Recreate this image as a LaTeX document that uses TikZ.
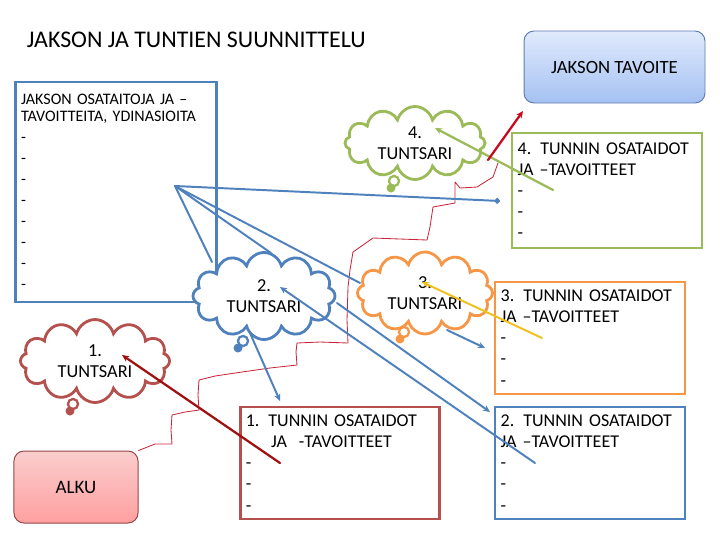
\documentclass[tikz,border=0pt]{standalone}
\usepackage{fontspec}
\setmainfont{Carlito}
\usetikzlibrary{shapes.symbols,arrows.meta}

\definecolor{sininen}{RGB}{79,129,189}
\definecolor{punainen}{RGB}{180,80,77}
\definecolor{oranssi}{RGB}{247,150,70}
\definecolor{vihrea}{RGB}{155,187,89}
\definecolor{tummapun}{RGB}{200,10,30}
\definecolor{viini}{RGB}{160,16,16}
\definecolor{keltainen}{RGB}{240,192,30}
\definecolor{polkupun}{RGB}{200,40,60}

\tikzset{
  osabox/.style={draw, line width=2pt, fill=white, align=left, inner xsep=4pt, inner ysep=0pt,
    font=\fontsize{12.8}{15}\selectfont},
  tuntsari/.style={cloud, cloud puffs=12, cloud ignores aspect, draw, line width=2pt, fill=white,
    align=center, inner sep=0pt, font=\fontsize{13}{15}\selectfont},
  pyorea/.style={rounded corners=0.25cm, draw, line width=0.7pt, align=center},
  yhteys/.style={line width=1.4pt, sininen},
  karki/.style={-{Stealth[length=5pt,width=4.5pt]}}
}

\begin{document}
\begin{tikzpicture}[x=0.025cm, y=-0.025cm, line cap=round]
\useasboundingbox (0,0) rectangle (720,540);

% --- otsikko ---
\node[anchor=west, font=\fontsize{17}{19}\selectfont] (otsikko) at (22,40) {JAKSON JA TUNTIEN SUUNNITTELU};

% --- tavoite ja alku ---
\node[pyorea, draw={rgb,255:red,95;green,125;blue,180}, top color={rgb,255:red,224;green,234;blue,252},
  bottom color={rgb,255:red,165;green,193;blue,242}, minimum width=128.7pt, minimum height=51.2pt,
  font=\fontsize{13.3}{15}\selectfont] (tavoite) at (614.5,67) {JAKSON TAVOITE};
\node[pyorea, draw={rgb,255:red,150;green,70;blue,70}, top color={rgb,255:red,250;green,205;blue,205},
  bottom color={rgb,255:red,255;green,160;blue,160}, minimum width=88.2pt, minimum height=51.2pt,
  font=\fontsize{13.5}{15}\selectfont] (alku) at (76,487) {ALKU};

% --- laatikot ---
\node[osabox, draw=sininen, text width=135pt, minimum height=156.5pt,
  font=\fontsize{11.4}{11.8}\selectfont] (jakso) at (116,192)
  {JAKSON OSATAITOJA JA –\\ TAVOITTEITA, YDINASIOITA\\[3.2pt] -\\[3.2pt] -\\[3.2pt] -\\[3.2pt] -\\[3.2pt]
   -\\[3.2pt] -\\[3.2pt] -\\[3.2pt] -};
\node[osabox, draw=vihrea, text width=127pt, minimum height=81.8pt] (tunti4) at (607,190.5)
  {4. TUNNIN OSATAIDOT\\ JA –TAVOITTEET\\ -\\ -\\ -};
\node[osabox, draw=oranssi, text width=127pt, minimum height=79.7pt] (tunti3) at (590,338)
  {3. TUNNIN OSATAIDOT\\ JA –TAVOITTEET\\ -\\ -\\ -};
\node[osabox, draw=sininen, text width=127pt, minimum height=79.7pt] (tunti2) at (590,463)
  {2. TUNNIN OSATAIDOT\\ JA –TAVOITTEET\\ -\\ -\\ -};
\node[osabox, draw=punainen, text width=134pt, minimum height=79.7pt] (tunti1) at (340,463)
  {1. TUNNIN OSATAIDOT\\ \hspace*{18pt}JA\ \ -TAVOITTEET\\ -\\ -\\ -};

% --- tuntsarit (pilvet) ---
\node[tuntsari, draw=vihrea, minimum width=99.6pt, minimum height=51.9pt] (sari4) at (415,143) {4.\\TUNTSARI};
\node[tuntsari, draw=sininen, minimum width=101pt, minimum height=61.9pt] (sari2) at (264,296) {2.\\TUNTSARI};
\node[tuntsari, draw=oranssi, minimum width=96pt, minimum height=58.3pt] (sari3) at (425,293) {3.\\TUNTSARI};
\node[tuntsari, draw=punainen, minimum width=106pt, minimum height=59pt] (sari1) at (95,361) {1.\\TUNTSARI};
% ajatuskuplat
\draw[vihrea, line width=1.6pt, fill=white] (394,181) circle (3.6pt);
\fill[vihrea] (391,188) circle (3.2pt);
\draw[sininen, line width=1.6pt, fill=white] (243,341) circle (3.6pt);
\fill[sininen] (238,348) circle (3.2pt);
\draw[oranssi, line width=1.6pt, fill=white] (404,332) circle (3.6pt);
\fill[oranssi] (400,339) circle (3.2pt);
\draw[punainen, line width=1.6pt, fill=white] (73,404) circle (3.6pt);
\fill[punainen] (70,411) circle (3.2pt);

% --- pisteet ---
\coordinate (lahto) at (175,186);
\coordinate (p4) at (500,201);
\coordinate (s2a) at (212,262);
\coordinate (s2b) at (271,253);
\coordinate (s3a) at (360,283);
\coordinate (s2ala) at (250,333);
\coordinate (t1yla) at (280,401);
\coordinate (s2nro) at (280,287);
\coordinate (t2sis) at (535,463);
\coordinate (s2oik) at (337,303);
\coordinate (t2yla) at (490,412);
\coordinate (s3ala) at (447,330);
\coordinate (t3vas) at (485,348);
\coordinate (s3nro) at (422,282);
\coordinate (t3sis) at (542,338);
\coordinate (s4nro) at (435,128);
\coordinate (t4sis) at (553,190);
\coordinate (s4oik) at (488,160);
\coordinate (tavala) at (523,111);
\coordinate (s1nro) at (122,355);
\coordinate (t1sis) at (280,463);
\coordinate (polkuloppu) at (498,163);

% --- polku alusta ---
\draw[polkupun, line width=0.6pt, line join=round] (alku.north east) -- (155,444) -- (172,444) -- (171,430)
  -- (172,415) -- (185,412) -- (199,410) -- (198,395) -- (199,380) -- (215,376) -- (242,372)
  -- (270,368) -- (297,365) -- (296,352) -- (297,343) -- (320,342) -- (348,343) -- (347,320)
  -- (348,287) -- (350,270) -- (353,252) -- (373,238) -- (400,239) -- (427,240) -- (430,227)
  -- (433,207) -- (455,203) -- (455,182) -- (460,188) -- (477,187) -- (493,177) -- (polkuloppu);

% --- yhteydet ---
\draw[yhteys, -{Circle[length=4pt]}] (lahto) -- (p4);
\draw[yhteys] (lahto) -- (s2a);
\draw[yhteys] (lahto) -- (s2b);
\draw[yhteys] (lahto) -- (s3a);
\draw[yhteys, karki] (s2ala) -- (t1yla);
\draw[yhteys, karki] (t2sis) -- (s2nro);
\draw[yhteys, karki] (s2oik) -- (t2yla);
\draw[yhteys, karki] (s3ala) -- (t3vas);
\draw[keltainen, line width=1.4pt, karki] (t3sis) -- (s3nro);
\draw[vihrea, line width=1.6pt, karki] (t4sis) -- (s4nro);
\draw[tummapun, line width=1.6pt, karki] (s4oik) -- (tavala);
\draw[viini, line width=1.6pt, karki] (t1sis) -- (s1nro);

\end{tikzpicture}
\end{document}
